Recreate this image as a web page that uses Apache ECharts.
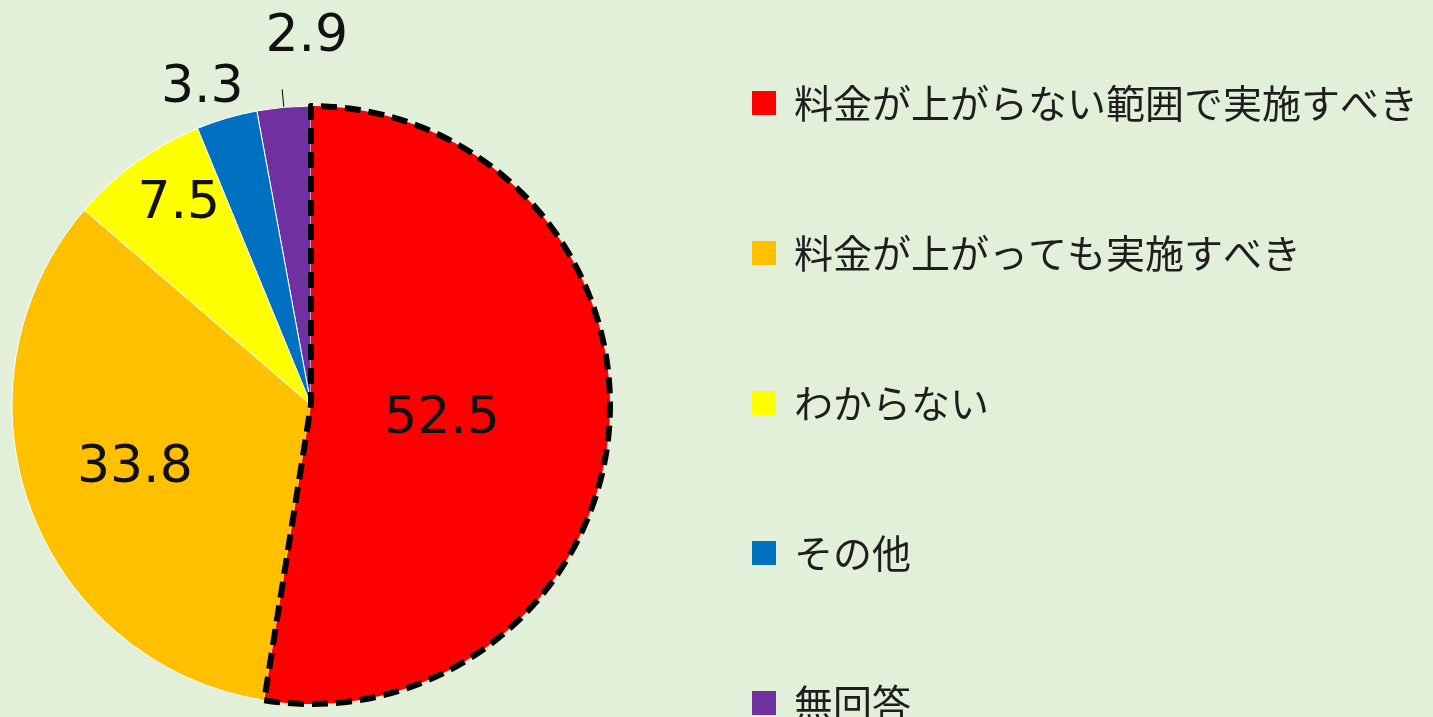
<!DOCTYPE html>
<html>
<head>
<meta charset="utf-8">
<script src="https://cdn.jsdelivr.net/npm/echarts@6/dist/echarts.min.js"></script>
<style>
html,body{margin:0;padding:0;background:#E2EFD9;}
#c{width:1433px;height:717px;}
</style>
</head>
<body>
<div id="c"></div>
<script>
const categories = ['料金が上がらない範囲で実施すべき', '料金が上がっても実施すべき', 'わからない', 'その他', '無回答'];
const values = [52.5, 33.8, 7.5, 3.3, 2.9];
const sliceColors = ['#FF0000', '#FFC000', '#FFFF00', '#0070C0', '#7030A0'];
const labelPlacement = ['inside', 'inside', 'inside', 'outside', 'outside'];
const labelShift = [[-21, 3], [-33, 11], [-43, -77], [27, -12], [71, -52]];

const n = categories.length;
// drawn counter-clockwise in reverse order so the highlighted slice is painted last
const order = categories.map((_, i) => n - 1 - i);
const pieData = order.map(i => ({
  name: categories[i],
  value: values[i],
  itemStyle: i === 0
    ? { color: sliceColors[i], borderColor: '#000', borderWidth: 6, borderType: [16, 8] }
    : { color: sliceColors[i], borderColor: '#ffffff', borderWidth: 1 },
  label: { position: labelPlacement[i] },
  labelLine: { show: i === 4, length: 18, length2: 0, lineStyle: { color: '#000', width: 1 } }
}));

const chart = echarts.init(document.getElementById('c'));
chart.setOption({
  backgroundColor: '#E2EFD9',
  animation: false,
  legend: {
    orient: 'vertical',
    left: 752,
    top: 83,
    height: 900,
    padding: 0,
    itemWidth: 24,
    itemHeight: 24,
    itemGap: 110,
    icon: 'rect',
    data: categories,
    itemStyle: { borderWidth: 0 },
    textStyle: {
      fontFamily: 'Noto Sans CJK JP',
      fontSize: 39,
      lineHeight: 40,
      color: '#1e1e1e',
      padding: [0, 0, 0, 13]
    }
  },
  series: [{
    type: 'pie',
    center: [311, 405],
    radius: 299,
    startAngle: 90,
    clockwise: false,
    avoidLabelOverlap: false,
    data: pieData,
    label: {
      show: true,
      formatter: p => p.value.toFixed(1),
      fontFamily: 'DejaVu Sans',
      fontSize: 52,
      color: '#111',
      distanceToLabelLine: 5
    },
    labelLayout: function (params) {
      const i = order[params.dataIndex];
      const res = { dx: labelShift[i][0], dy: labelShift[i][1] };
      if (params.labelLinePoints) {
        const p = params.labelLinePoints;
        res.labelLinePoints = [p[0], p[1], p[1]];
      }
      return res;
    }
  }]
});
</script>
</body>
</html>
